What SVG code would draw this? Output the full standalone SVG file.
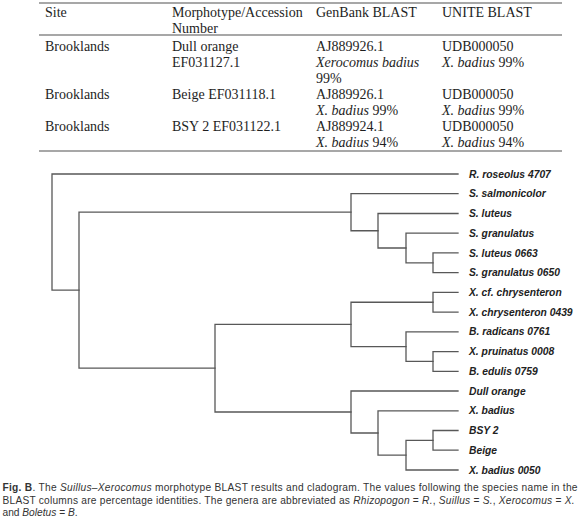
<svg xmlns="http://www.w3.org/2000/svg" width="580" height="527" viewBox="0 0 580 527">
<style>
.tb{font-family:"Liberation Serif","Times New Roman",serif;font-size:14px;fill:#1e1e1e}
.it{font-style:italic}
.rule{stroke:#8a8a8a;stroke-width:1.3;fill:none}
.br{stroke:#585858;stroke-width:1.3;fill:none;stroke-linecap:square}
.lb{font-family:"Liberation Sans",Arial,sans-serif;font-size:10.3px;font-weight:bold;font-style:italic;fill:#222}
.cap{font-family:"Liberation Sans",Arial,sans-serif;font-size:10.2px;fill:#333}
</style>
<rect width="580" height="527" fill="#fff"/>
<g id="table">
<line class="rule" x1="39" y1="3" x2="562" y2="3"/>
<line class="rule" x1="39" y1="35" x2="562" y2="35"/>
<line class="rule" x1="39" y1="151" x2="562" y2="151"/>
<g id="header">
<text class="tb" x="45" y="17">Site</text>
<text class="tb" x="172" y="17">Morphotype/Accession</text>
<text class="tb" x="172" y="32.5">Number</text>
<text class="tb" x="316" y="17">GenBank BLAST</text>
<text class="tb" x="442" y="17">UNITE BLAST</text>
</g>
<g id="row1">
<text class="tb" x="45" y="51">Brooklands</text>
<text class="tb" x="172" y="51">Dull orange</text>
<text class="tb" x="172" y="67">EF031127.1</text>
<text class="tb" x="316" y="51">AJ889926.1</text>
<text class="tb it" x="316" y="67">Xerocomus badius</text>
<text class="tb" x="316" y="83">99%</text>
<text class="tb" x="442" y="51">UDB000050</text>
<text class="tb" x="442" y="67"><tspan class="it">X. badius</tspan> 99%</text>
</g>
<g id="row2">
<text class="tb" x="45" y="99">Brooklands</text>
<text class="tb" x="172" y="99">Beige EF031118.1</text>
<text class="tb" x="316" y="99">AJ889926.1</text>
<text class="tb" x="316" y="115"><tspan class="it">X. badius</tspan> 99%</text>
<text class="tb" x="442" y="99">UDB000050</text>
<text class="tb" x="442" y="115"><tspan class="it">X. badius</tspan> 99%</text>
</g>
<g id="row3">
<text class="tb" x="45" y="131">Brooklands</text>
<text class="tb" x="172" y="131">BSY 2 EF031122.1</text>
<text class="tb" x="316" y="131">AJ889924.1</text>
<text class="tb" x="316" y="146.5"><tspan class="it">X. badius</tspan> 94%</text>
<text class="tb" x="442" y="131">UDB000050</text>
<text class="tb" x="442" y="146.5"><tspan class="it">X. badius</tspan> 94%</text>
</g>
</g>
<g id="connectors">
<path class="br" d="M458 174 H52 V290.2 H79"/>
<path class="br" d="M351 212.2 H79 V368.2 H215"/>
<path class="br" d="M351 324.4 H215 V412 H351"/>
<path class="br" d="M458 193.7 H351 V230.75 H378"/>
<path class="br" d="M458 213.5 H378 V248 H406"/>
<path class="br" d="M458 233.2 H406 V262.8 H433"/>
<path class="br" d="M458 252.9 H433 V272.7 H458"/>
<path class="br" d="M433 302.25 H351 V346.6 H406"/>
<path class="br" d="M458 292.4 H433 V312.1 H458"/>
<path class="br" d="M458 331.8 H406 V361.45 H433"/>
<path class="br" d="M458 351.6 H433 V371.3 H458"/>
<path class="br" d="M458 391 H351 V433 H378"/>
<path class="br" d="M458 410.8 H378 V455.2 H406"/>
<path class="br" d="M433 440.35 H406 V470 H458"/>
<path class="br" d="M458 430.5 H433 V450.2 H458"/>
</g>
<g id="tip-r-roseolus"><text class="lb" x="469" y="177.6">R. roseolus 4707</text></g>
<g id="tip-s-salmonicolor"><text class="lb" x="469" y="197.3">S. salmonicolor</text></g>
<g id="tip-s-luteus"><text class="lb" x="469" y="217.1">S. luteus</text></g>
<g id="tip-s-granulatus"><text class="lb" x="469" y="236.8">S. granulatus</text></g>
<g id="tip-s-luteus-0663"><text class="lb" x="469" y="256.5">S. luteus 0663</text></g>
<g id="tip-s-granulatus-0650"><text class="lb" x="469" y="276.3">S. granulatus 0650</text></g>
<g id="tip-x-cf-chrysenteron"><text class="lb" x="469" y="296">X. cf. chrysenteron</text></g>
<g id="tip-x-chrysenteron-0439"><text class="lb" x="469" y="315.7">X. chrysenteron 0439</text></g>
<g id="tip-b-radicans"><text class="lb" x="469" y="335.4">B. radicans 0761</text></g>
<g id="tip-x-pruinatus"><text class="lb" x="469" y="355.2">X. pruinatus 0008</text></g>
<g id="tip-b-edulis"><text class="lb" x="469" y="374.9">B. edulis 0759</text></g>
<g id="tip-dull-orange"><text class="lb" x="469" y="394.6">Dull orange</text></g>
<g id="tip-x-badius"><text class="lb" x="469" y="414.4">X. badius</text></g>
<g id="tip-bsy2"><text class="lb" x="469" y="434.1">BSY 2</text></g>
<g id="tip-beige"><text class="lb" x="469" y="453.8">Beige</text></g>
<g id="tip-x-badius-0050"><text class="lb" x="469" y="473.6">X. badius 0050</text></g>
<g id="caption">
<text class="cap" x="2.5" y="491" textLength="575" lengthAdjust="spacing"><tspan font-weight="bold">Fig. B</tspan>. The <tspan font-style="italic">Suillus–Xerocomus</tspan> morphotype BLAST results and cladogram. The values following the species name in the</text>
<text class="cap" x="2.5" y="503.5" textLength="572" lengthAdjust="spacing">BLAST columns are percentage identities. The genera are abbreviated as <tspan font-style="italic">Rhizopogon</tspan> = <tspan font-style="italic">R.</tspan>, <tspan font-style="italic">Suillus</tspan> = <tspan font-style="italic">S.</tspan>, <tspan font-style="italic">Xerocomus</tspan> = <tspan font-style="italic">X.</tspan></text>
<text class="cap" x="2.5" y="516">and <tspan font-style="italic">Boletus</tspan> = <tspan font-style="italic">B</tspan>.</text>
</g>
</svg>
